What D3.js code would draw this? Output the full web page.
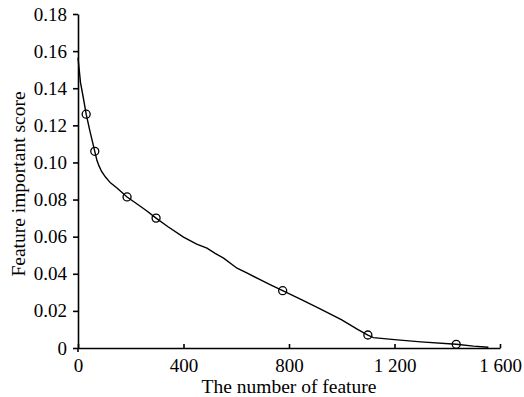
<!DOCTYPE html>
<html>
<head>
<meta charset="utf-8">
<script src="https://cdn.jsdelivr.net/npm/d3@7"></script>
<style>
  body { margin: 0; background: #fff; }
  text { font-family: "Liberation Serif", "Times New Roman", serif; }
</style>
</head>
<body>
<div id="chart"></div>
<script>
// line: feature rank vs importance score
var featureNum = [0, 9.5, 20, 31, 45, 63.6, 72, 80, 90, 105, 123, 150, 186, 220, 260, 296, 340, 400, 450, 489, 520, 552, 603, 640, 679, 730, 776, 849, 920, 1000, 1060, 1099, 1120, 1200, 1300, 1434, 1500, 1556];
var scores = [0.1564, 0.143, 0.135, 0.126, 0.117, 0.106, 0.101, 0.098, 0.095, 0.092, 0.089, 0.086, 0.0814, 0.078, 0.074, 0.070, 0.0655, 0.0598, 0.056, 0.0538, 0.051, 0.0484, 0.043, 0.0405, 0.0376, 0.034, 0.0309, 0.0259, 0.021, 0.0151, 0.010, 0.0070, 0.0056, 0.0045, 0.0033, 0.0020, 0.0010, 0.0004];

// circled markers
var markerNum = [31, 63.6, 186, 296, 776, 1099, 1434];
var markerScores = [0.126, 0.106, 0.0814, 0.070, 0.0309, 0.0070, 0.0020];

var xTicks = [0, 400, 800, 1200, 1600];
var xTickLabels = ["0", "400", "800", "1 200", "1 600"];
var yTicks = [0, 0.02, 0.04, 0.06, 0.08, 0.10, 0.12, 0.14, 0.16, 0.18];

var width = 524, height = 397;

var svg = d3.select("#chart")
    .append("svg")
    .attr("width", width)
    .attr("height", height);

var xScale = d3.scaleLinear().domain([0, 1600]).range([78, 500]);
var yScale = d3.scaleLinear().domain([0, 0.18]).range([348, 14]);

var xAxis = d3.axisBottom(xScale)
    .tickValues(xTicks)
    .tickSizeInner(-4)
    .tickSizeOuter(0)
    .tickPadding(11)
    .tickFormat(function(d, i) { return xTickLabels[i]; });

var yAxis = d3.axisLeft(yScale)
    .tickValues(yTicks)
    .tickSizeInner(5)
    .tickSizeOuter(0)
    .tickPadding(6)
    .tickFormat(function(d) { return d === 0 ? "0" : d3.format(".2f")(d); });

svg.append("g")
    .attr("class", "x-axis")
    .attr("transform", "translate(0,348)")
    .call(xAxis);

svg.append("g")
    .attr("class", "y-axis")
    .attr("transform", "translate(78,0)")
    .call(yAxis);

svg.selectAll(".domain, .tick line")
    .attr("stroke", "#000")
    .attr("stroke-width", 1.6);

svg.selectAll(".tick text")
    .attr("fill", "#000")
    .style("font-size", "19px");

// y axis runs a little below the x axis
svg.append("line")
    .attr("x1", 78).attr("x2", 78)
    .attr("y1", 348).attr("y2", 352)
    .attr("stroke", "#000")
    .attr("stroke-width", 1.6);

var line = d3.line()
    .x(function(d, i) { return xScale(featureNum[i]); })
    .y(function(d, i) { return yScale(scores[i]); });

svg.append("path")
    .datum(scores)
    .attr("d", line)
    .attr("fill", "none")
    .attr("stroke", "#000")
    .attr("stroke-width", 1.4);

svg.selectAll(".marker")
    .data(markerNum)
    .enter().append("circle")
    .attr("class", "marker")
    .attr("cx", function(d) { return xScale(d); })
    .attr("cy", function(d, i) { return yScale(markerScores[i]); })
    .attr("r", 4)
    .attr("fill", "none")
    .attr("stroke", "#000")
    .attr("stroke-width", 1.3);

svg.append("text")
    .attr("x", 289)
    .attr("y", 393)
    .attr("text-anchor", "middle")
    .style("font-size", "19.5px")
    .text("The number of feature");

svg.append("text")
    .attr("transform", "translate(25,184) rotate(-90)")
    .attr("text-anchor", "middle")
    .style("font-size", "19.5px")
    .text("Feature important score");
</script>
</body>
</html>
